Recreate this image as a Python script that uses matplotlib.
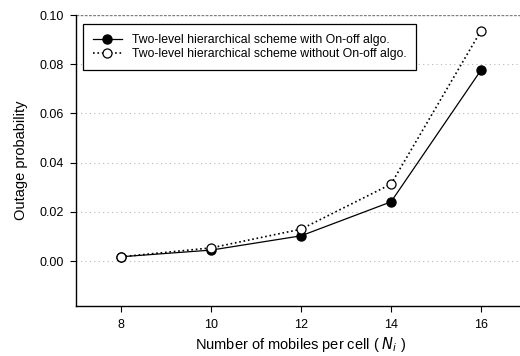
import matplotlib.pyplot as plt

plt.rcParams['font.family'] = ['Liberation Sans', 'DejaVu Sans']

n_mobiles = [8, 10, 12, 14, 16]
with_onoff = [0.0018, 0.0045, 0.0103, 0.0241, 0.0776]
without_onoff = [0.0018, 0.0054, 0.0130, 0.0313, 0.0936]
yticks = [0.00, 0.02, 0.04, 0.06, 0.08, 0.10]

fig = plt.figure(figsize=(5.2, 3.56), dpi=100)
ax = fig.add_axes([76 / 520, 1 - 306 / 356, 450 / 520, 291 / 356])

for y in yticks[:-1]:
    ax.axhline(y, color='#b8b8b8', linestyle=(0, (1, 3)), linewidth=0.8, zorder=0)
ax.axhline(0.10, color='#808080', linestyle=(0, (2, 1)), linewidth=1.0, zorder=0)

ax.plot(n_mobiles, with_onoff, '-', color='black', linewidth=0.9,
        marker='o', markersize=6.5, markerfacecolor='black',
        label='Two-level hierarchical scheme with On-off algo.')
ax.plot(n_mobiles, without_onoff, ':', color='black', linewidth=1.2,
        marker='o', markersize=6.5, markerfacecolor='white', markeredgewidth=0.9,
        label='Two-level hierarchical scheme without On-off algo.')

ax.set_xlim(7, 17)
ax.set_ylim(-0.0182, 0.10)
ax.set_xticks(n_mobiles)
ax.set_yticks(yticks)
ax.set_yticklabels(['%.2f' % v for v in yticks])
ax.tick_params(direction='out', length=4, width=0.8, labelsize=9, pad=5)

ax.spines['top'].set_visible(False)
ax.spines['right'].set_visible(False)
ax.spines['left'].set_linewidth(1.0)
ax.spines['bottom'].set_linewidth(1.0)

ax.set_xlabel('Number of mobiles per cell ( $\\it{N_i}$ )', fontsize=10.5, labelpad=3)
ax.set_ylabel('Outage probability', fontsize=10.5, labelpad=8)

leg = ax.legend(loc='upper left', bbox_to_anchor=(0.0156, 0.969), fontsize=8.8,
                fancybox=False, framealpha=1, edgecolor='black',
                handlelength=2.4, borderpad=0.8, labelspacing=0.2,
                borderaxespad=0)
leg.get_frame().set_linewidth(0.9)

fig.savefig('out.png', dpi=100)
